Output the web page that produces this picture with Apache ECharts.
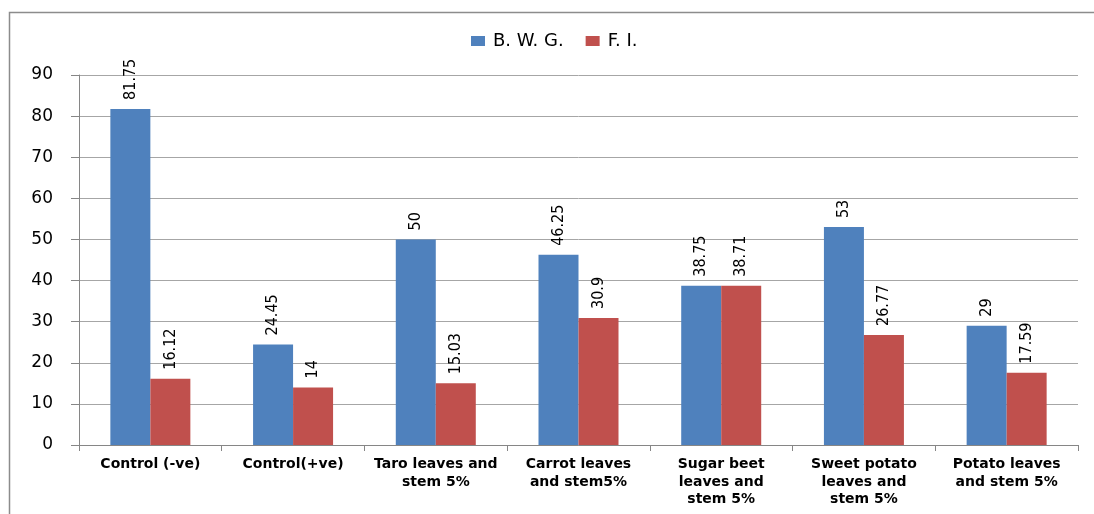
<!DOCTYPE html>
<html>
<head>
<meta charset="utf-8">
<script src="https://cdn.jsdelivr.net/npm/echarts@6/dist/echarts.min.js"></script>
<style>
  html, body { margin: 0; padding: 0; background: #fff; }
  #chart { width: 1094px; height: 514px; }
</style>
</head>
<body>
<div id="chart"></div>
<script>
// Treatment groups along the x axis
const categories = [
  'Control (-ve)',
  'Control(+ve)',
  'Taro leaves and\nstem 5%',
  'Carrot leaves\nand stem5%',
  'Sugar beet\nleaves and\nstem 5%',
  'Sweet potato\nleaves and\nstem 5%',
  'Potato leaves\nand stem 5%'
];
// Body weight gain
const bwg = [81.75, 24.45, 50, 46.25, 38.75, 53, 29];
// Feed intake
const fi = [16.12, 14, 15.03, 30.9, 38.71, 26.77, 17.59];
const seriesNames = ['B. W. G.', 'F. I.'];

const chart = echarts.init(document.getElementById('chart'), null, { renderer: 'canvas' });

// Values written upright above each bar
const valueLabel = {
  show: true,
  position: 'top',
  rotate: 90,
  align: 'left',
  verticalAlign: 'middle',
  distance: 9,
  color: '#000',
  fontSize: 16,
  fontFamily: '"DejaVu Sans Condensed", "Liberation Sans Narrow", Arial, sans-serif',
  formatter: p => String(p.value)
};

chart.setOption({
  animation: false,
  backgroundColor: '#fff',
  graphic: [{
    type: 'rect',
    shape: { x: 9.5, y: 12.5, width: 1100, height: 520 },
    style: { fill: 'none', stroke: '#8c8c8c', lineWidth: 1.5 },
    z: -1
  }],
  legend: {
    left: 466,
    top: 27,
    itemWidth: 14,
    itemHeight: 10,
    itemGap: 22,
    icon: 'rect',
    textStyle: { fontSize: 18, color: '#000', fontFamily: '"DejaVu Sans", Verdana, sans-serif', padding: [0, 0, 0, 3] },
    data: seriesNames
  },
  grid: { left: 79, right: 16, top: 75, bottom: 69, containLabel: false },
  xAxis: {
    type: 'category',
    data: categories,
    axisLine: { lineStyle: { color: '#868686', width: 1 } },
    axisTick: { show: true, length: 6, lineStyle: { color: '#868686' } },
    axisLabel: {
      interval: 0,
      margin: 11,
      color: '#000',
      fontSize: 14,
      fontWeight: 'bold',
      lineHeight: 17.5,
      fontFamily: '"DejaVu Sans", Verdana, sans-serif'
    }
  },
  yAxis: {
    type: 'value',
    min: 0,
    max: 90,
    interval: 10,
    axisLine: { show: true, lineStyle: { color: '#868686' } },
    axisTick: { show: true, length: 8, lineStyle: { color: '#868686' } },
    splitLine: { lineStyle: { color: '#a6a6a6', width: 1 } },
    axisLabel: {
      margin: 26,
      color: '#000',
      fontSize: 17,
      fontFamily: '"DejaVu Sans", Verdana, sans-serif'
    }
  },
  series: [
    {
      name: seriesNames[0],
      type: 'bar',
      data: bwg,
      barWidth: 40,
      barGap: '0%',
      itemStyle: { color: '#4F81BD' },
      label: valueLabel
    },
    {
      name: seriesNames[1],
      type: 'bar',
      data: fi,
      barWidth: 40,
      barGap: '0%',
      itemStyle: { color: '#C0504D' },
      label: valueLabel
    }
  ]
});
</script>
</body>
</html>
